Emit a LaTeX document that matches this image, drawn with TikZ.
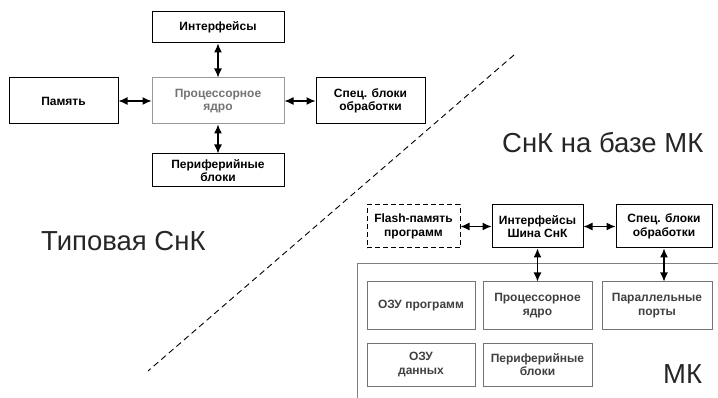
\documentclass[tikz,border=0pt]{standalone}
\usepackage{fontspec}
\setmainfont{Liberation Sans}
\usetikzlibrary{arrows.meta}

\begin{document}
\begin{tikzpicture}[x=1pt,y=-1pt]
\tikzstyle{every node}+=[inner sep=0pt]
\tikzstyle{blk}=[draw=black,line width=1pt,align=center,font=\fontsize{12}{13.5}\selectfont\bfseries]
\tikzstyle{mkblk}=[blk,draw=black!55,text=black!75]
\tikzstyle{link}=[line width=1.2pt,{Latex[length=9pt,width=8pt]}-{Latex[length=9pt,width=8pt]}]
\tikzstyle{title}=[font=\fontsize{27.5}{30}\selectfont,text=black!85]
\useasboundingbox (0,0) rectangle (718,398);
\node [blk,minimum width=132pt,minimum height=31pt] (intf) at (218,27.5) {Интерфейсы};
\node [blk,draw=black!40,text=black!55,minimum width=132pt,minimum height=46pt] (core) at (218,101) {Процессорное\\ядро};
\node [blk,minimum width=109pt,minimum height=46pt] (mem) at (63.5,101) {Память};
\node [blk,minimum width=109pt,minimum height=46pt] (spec) at (370.5,101) {Спец. блоки\\обработки};
\node [blk,minimum width=132pt,minimum height=33pt] (peri) at (218,170.5) {Периферийные\\блоки};
\draw [link] (intf) -- (core);
\draw [link] (mem) -- (core);
\draw [link] (core) -- (spec);
\draw [link] (core) -- (peri);
\draw [line width=0.9pt,dash pattern=on 6pt off 4pt] (514,55) -- (148,371);
\node [title,anchor=base west] (typ) at (41,251) {Типовая СнК};
\node [title,anchor=base west] (onmk) at (502,153) {СнК на базе МК};
\draw [draw=black!50,line width=1pt] (725,264) -- (357,264) -- (357,405);
\node [title,anchor=base west] (mk) at (663,383) {МК};
\node [blk,dashed,dash pattern=on 5pt off 3pt,minimum width=93pt,minimum height=43pt] (flash) at (413.5,226.5) {Flash-память\\программ};
\node [blk,minimum width=91pt,minimum height=43pt] (bus) at (537.5,226.5) {Интерфейсы\\Шина СнК};
\node [blk,minimum width=96pt,minimum height=43pt] (spec2) at (664,226.5) {Спец. блоки\\обработки};
\node [mkblk,minimum width=108pt,minimum height=47pt] (ram) at (421,305.5) {ОЗУ программ};
\node [mkblk,minimum width=109pt,minimum height=47pt] (core2) at (537.5,305.5) {Процессорное\\ядро};
\node [mkblk,minimum width=110pt,minimum height=47pt] (ports) at (657,305.5) {Параллельные\\порты};
\node [mkblk,minimum width=108pt,minimum height=43pt] (dram) at (421,364.5) {ОЗУ\\данных};
\node [mkblk,minimum width=109pt,minimum height=43pt] (peri2) at (537.5,364.5) {Периферийные\\блоки};
\draw [link] (flash) -- (bus);
\draw [link] (bus) -- (spec2);
\draw [link] (bus) -- (core2);
\draw [link] (spec2.south) -- (spec2.south |- ports.north);
\end{tikzpicture}
\end{document}
